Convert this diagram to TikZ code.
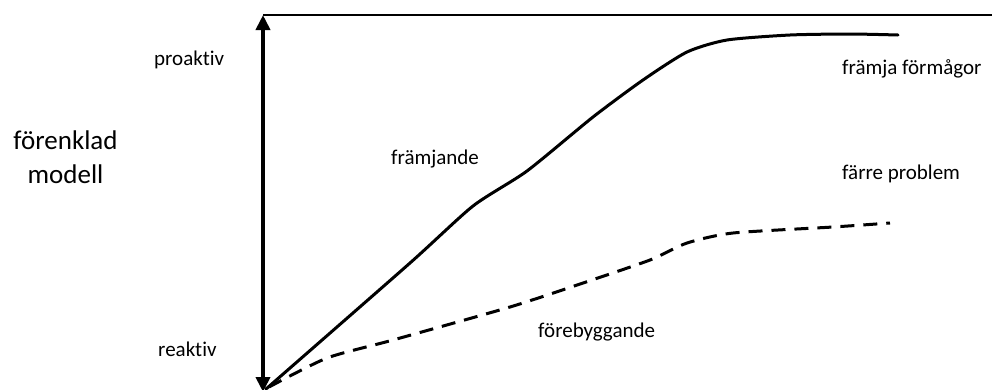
\documentclass[tikz,border=0pt]{standalone}
\usepackage{fontspec}
\setmainfont{Carlito}[Ligatures={NoCommon,NoRequired,NoContextual}]
\usetikzlibrary{arrows.meta}
\begin{document}
\begin{tikzpicture}[x=1pt,y=-1pt,
  lbl/.style={font=\fontsize{21}{25}\selectfont, anchor=base west, inner sep=0pt},
  big/.style={font=\fontsize{27}{34}\selectfont, anchor=base, inner sep=0pt},
  curve/.style={line width=3pt, line cap=round, line join=round},
  dashcurve/.style={curve, line cap=butt, dash pattern=on 14pt off 9pt}]
\useasboundingbox (0,0) rectangle (992,389);
\coordinate (top) at (263,15);
\coordinate (bot) at (263,392);
\coordinate (topend) at (992,15);
\draw[line width=1.3pt] (top) -- (topend);
\draw[line width=4pt, {Triangle[width=14pt,length=15pt]}-{Triangle[width=14pt,length=15pt]}] (bot) -- (top);
\draw[curve] plot[smooth, tension=0.4] coordinates {(266,389) (410,263) (473,206) (527,171) (593,117) (643,80) (687,52) (727,40) (790,35) (850,34) (898,35)};
\draw[dashcurve] plot[smooth, tension=0.4] coordinates {(269,387) (327,358) (393,340) (510,307) (583,283) (650,260) (687,243) (733,233) (833,227) (890,223)};
\node[big] (f1) at (65.5,149) {förenklad};
\node[big] (f2) at (65.5,183) {modell};
\node[lbl] (pro) at (154,65) {proaktiv};
\node[lbl] (rea) at (158,356) {reaktiv};
\node[lbl] (fr) at (391,164) {främjande};
\node[lbl] (fb) at (538,337) {förebyggande};
\node[lbl] (ff) at (842,74) {främja förmågor};
\node[lbl] (fp) at (842,179) {färre problem};
\end{tikzpicture}
\end{document}
